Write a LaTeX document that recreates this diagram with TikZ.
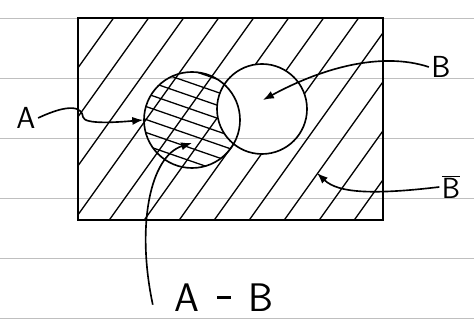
\documentclass[tikz,border=0pt]{standalone}
\usetikzlibrary{arrows.meta,calc}

\begin{document}
\begin{tikzpicture}[x=0.3mm,y=0.3mm,>=Latex,
  ink/.style={line width=1.4pt,black},
  hatch/.style={line width=1.1pt,black},
  ruling/.style={line width=0.8pt,gray!50},
  lbl/.style={font=\sffamily\fontsize{26}{30}\selectfont,inner sep=2pt}]
  \useasboundingbox (0,0) rectangle (474,321);
  \foreach \yy in {3,63,123,183,243,303}
    \draw[ruling] (0,\yy) -- (474,\yy);

  \node[draw,ink,inner sep=0,minimum width=91.5mm,minimum height=60.6mm] (univ) at (230.5,202) {};
  \node[draw,ink,circle,inner sep=0,minimum size=28.8mm] (setA) at (192,201) {};
  \node[draw,ink,circle,inner sep=0,minimum size=27mm] (setB) at (262,212) {};

  \begin{scope}[even odd rule]
    \clip (78,101) rectangle (383,303) (262,212) circle (45);
    \foreach \xx in {-70,-35,...,385}
      \draw[hatch] (\xx,95) -- ++(150,210);
  \end{scope}
  \begin{scope}[even odd rule]
    \clip (192,201) circle (48);
    \clip (78,101) rectangle (383,303) (262,212) circle (45);
    \foreach \yy in {155,168,...,275}
      \draw[hatch] (130,\yy) -- ++(130,-45);
  \end{scope}

  \node[lbl] (labA) at (26,203) {A};
  \node[lbl] (labB) at (441,254) {B};
  \node[lbl] (labBc) at (451,134) {$\overline{\mathsf{B}}$};
  \node[font=\sffamily\fontsize{34}{38}\selectfont,inner sep=1pt] (labAB) at (224,23)
    {A\hspace{0.45em}\raisebox{0.33em}{\rule{0.35em}{0.07em}}\hspace{0.45em}B};

  \coordinate (inB) at (263,221);
  \coordinate (inBc) at (317,148);
  \coordinate (inAB) at (192,178);

  \draw[ink,->] (labA.east) .. controls (70,218) and (82,214) .. (83,204)
    .. controls (84,196) and (120,199) .. (setA.west);
  \draw[ink,->] (labB.west) .. controls (380,270) and (320,252) .. (inB);
  \draw[ink,->] (labBc.west) .. controls (372,126) and (338,128) .. (inBc);
  \draw[ink,->] ([xshift=-6mm,yshift=-2mm]labAB.west) .. controls (136,95) and (150,165) .. (inAB);
\end{tikzpicture}
\end{document}
